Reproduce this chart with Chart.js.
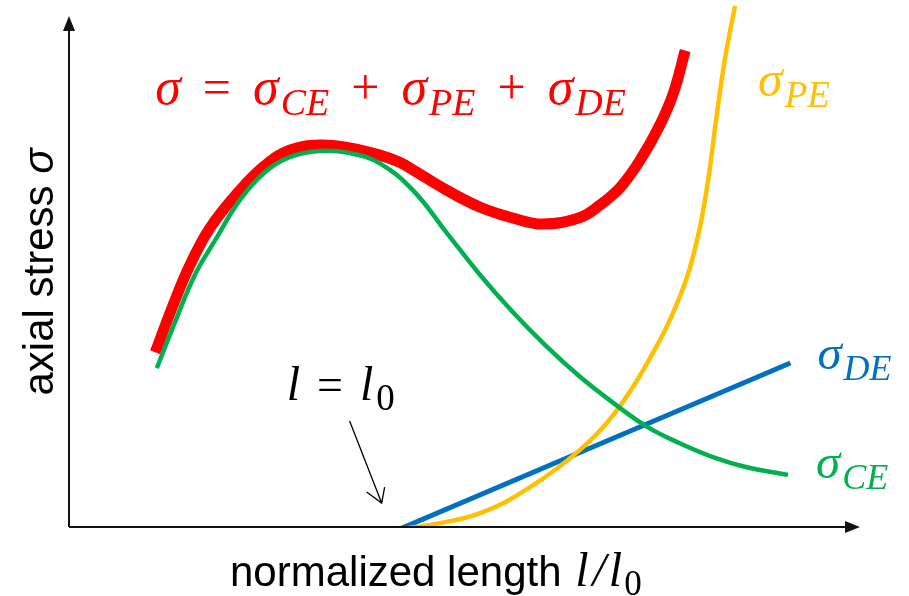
<!DOCTYPE html>
<html>
<head>
<meta charset="utf-8">
<script src="https://cdn.jsdelivr.net/npm/chart.js@4.4.1/dist/chart.umd.min.js"></script>
<style>
    body { margin: 0; background: #fff; }
</style>
</head>
<body>
<canvas id="stressChart" width="909" height="596"></canvas>
<script>
// values (x = normalized length, y = axial stress, arbitrary units 0..100)

// total stress  sigma = sigma_CE + sigma_PE + sigma_DE
const totalX = [10.9, 13.4, 15.3, 17.8, 21.6, 24.8, 27.9, 31.7, 35.5, 39.3, 41.8, 43.5, 47.8, 52.0, 56.1, 59.9, 64.6, 67.1, 69.7, 72.2, 74.7, 76.4, 77.9];
const totalY = [34.2, 44.4, 51.3, 58.5, 65.9, 70.8, 73.8, 74.8, 74.2, 72.8, 71.4, 69.9, 65.9, 62.6, 60.5, 59.3, 60.6, 63.0, 66.5, 71.8, 78.7, 84.9, 93.3];

// contractile element
const ceX = [11.1, 13.4, 15.9, 18.5, 21.6, 24.8, 27.9, 31.7, 35.5, 39.3, 43.5, 47.8, 52.0, 56.1, 60.4, 64.6, 68.8, 73.1, 77.2, 81.4, 85.7, 90.9];
const ceY = [31.1, 40.1, 49.3, 56.2, 64.0, 69.5, 72.4, 73.6, 73.2, 71.2, 65.9, 57.5, 49.3, 42.1, 35.3, 29.4, 24.3, 19.6, 16.4, 13.7, 11.7, 10.2];

// parallel elastic element
const peX = [41.8, 45.6, 52.0, 58.3, 64.6, 68.8, 73.1, 77.2, 79.4, 80.8, 81.8, 82.9, 84.2];
const peY = [-0.4, 0.4, 2.7, 7.8, 15.1, 21.9, 32.1, 45.0, 56.2, 67.9, 79.6, 91.4, 102.0];

// damping element (straight line)
const deX = [41.8, 91.2];
const deY = [-0.4, 32.1];

const colRed = '#ff0000';
const colGreen = '#00b050';
const colYellow = '#ffc000';
const colBlue = '#0070c0';

function toPoints(xs, ys) {
    return xs.map(function (x, i) {
        return { x: x, y: ys[i] };
    });
}

const mathFont = '"Liberation Serif", "DejaVu Serif", serif';
const sansFont = '"Liberation Sans", Arial, sans-serif';

// draws a row of pieces: [text, font, baseline shift, gap after]
function drawRow(ctx, x, y, pieces) {
    pieces.forEach(function (p) {
        ctx.font = p[1];
        ctx.fillText(p[0], x, y + p[2]);
        x += ctx.measureText(p[0]).width + p[3];
    });
    return x;
}

function sigma(name, size) {
    return [
        ['σ', 'italic ' + size + 'px ' + mathFont, 0, 2],
        [name, 'italic ' + Math.round(size * 0.74) + 'px ' + mathFont, Math.round(size * 0.22), 0]
    ];
}

const drawingPlugin = {
    id: 'drawing',
    afterDatasetsDraw(chart) {
        const ctx = chart.ctx;
        const area = chart.chartArea;
        const xs = chart.scales.x;
        const ys = chart.scales.y;
        const x0 = area.left;
        const y0 = ys.getPixelForValue(0);

        ctx.save();

        // axes with filled arrowheads
        ctx.strokeStyle = '#111';
        ctx.fillStyle = '#111';
        ctx.lineWidth = 2;
        ctx.beginPath();
        ctx.moveTo(x0, y0);
        ctx.lineTo(x0, area.top + 24);
        ctx.moveTo(x0, y0);
        ctx.lineTo(area.right - 14, y0);
        ctx.stroke();

        ctx.beginPath();
        ctx.moveTo(x0, area.top + 10);
        ctx.lineTo(x0 - 6, area.top + 25);
        ctx.lineTo(x0 + 6, area.top + 25);
        ctx.closePath();
        ctx.fill();

        ctx.beginPath();
        ctx.moveTo(area.right, y0);
        ctx.lineTo(area.right - 15, y0 - 6);
        ctx.lineTo(area.right - 15, y0 + 6);
        ctx.closePath();
        ctx.fill();

        // axis titles
        ctx.fillStyle = '#000';
        ctx.textBaseline = 'alphabetic';
        ctx.save();
        ctx.translate(53, 272);
        ctx.rotate(-Math.PI / 2);
        const yt1 = 'axial stress ';
        ctx.font = '42px ' + sansFont;
        const w1 = ctx.measureText(yt1).width;
        ctx.font = 'italic 42px ' + sansFont;
        const w2 = ctx.measureText('σ').width;
        const tx = -(w1 + w2) / 2;
        ctx.font = '42px ' + sansFont;
        ctx.fillText(yt1, tx, 0);
        ctx.font = 'italic 42px ' + sansFont;
        ctx.fillText('σ', tx + w1, 0);
        ctx.restore();

        drawRow(ctx, 230, 586, [
            ['normalized length ', '42px ' + sansFont, 0, 2],
            ['l', 'italic 48px ' + mathFont, 0, 4],
            ['/', 'italic 48px ' + mathFont, 0, 3],
            ['l', 'italic 48px ' + mathFont, 0, 2],
            ['0', '35px ' + mathFont, 9, 0]
        ]);

        // formula for the total stress
        const bigF = 'italic 52px ' + mathFont;
        const opF = '50px ' + mathFont;
        ctx.fillStyle = colRed;
        const formula = [['σ', bigF, 0, 22], ['=', opF, 0, 22]]
            .concat(sigma('CE', 52)).concat([['', opF, 0, 22], ['+', opF, 0, 22]])
            .concat(sigma('PE', 52)).concat([['', opF, 0, 22], ['+', opF, 0, 22]])
            .concat(sigma('DE', 52));
        drawRow(ctx, xs.getPixelForValue(totalX[0]), 104, formula);

        // series labels next to the line ends
        const peEnd = peX.length - 1;
        ctx.fillStyle = colYellow;
        drawRow(ctx, xs.getPixelForValue(peX[peEnd]) + 23, 96, sigma('PE', 50));

        ctx.fillStyle = colBlue;
        drawRow(ctx, xs.getPixelForValue(deX[1]) + 27, ys.getPixelForValue(deY[1]) + 6, sigma('DE', 49));

        const ceEnd = ceX.length - 1;
        ctx.fillStyle = colGreen;
        drawRow(ctx, xs.getPixelForValue(ceX[ceEnd]) + 28, ys.getPixelForValue(ceY[ceEnd]) + 3, sigma('CE', 49));

        // l = l0 marker pointing at the start of the elastic elements
        const sx = xs.getPixelForValue(deX[0]);
        const sy = ys.getPixelForValue(deY[0]);
        ctx.fillStyle = '#000';
        drawRow(ctx, sx - 113, sy - 129, [
            ['l', 'italic 48px ' + mathFont, 0, 17],
            ['=', '46px ' + mathFont, 0, 17],
            ['l', 'italic 48px ' + mathFont, 0, 3],
            ['0', '37px ' + mathFont, 10, 0]
        ]);

        ctx.strokeStyle = '#000';
        ctx.lineWidth = 1.3;
        const tipX = sx - 18, tipY = sy - 26;
        ctx.beginPath();
        ctx.moveTo(sx - 50, sy - 108);
        ctx.lineTo(tipX, tipY);
        ctx.moveTo(tipX - 15, tipY - 11);
        ctx.lineTo(tipX, tipY);
        ctx.lineTo(tipX + 3, tipY - 16);
        ctx.stroke();

        ctx.restore();
    }
};

const lineStyle = {
    showLine: true,
    fill: false,
    pointRadius: 0,
    tension: 0.4,
    borderCapStyle: 'butt',
    borderJoinStyle: 'round'
};

new Chart(document.getElementById('stressChart').getContext('2d'), {
    type: 'scatter',
    data: {
        datasets: [
            Object.assign({ label: 'σ_CE', data: toPoints(ceX, ceY), borderColor: colGreen, borderWidth: 4.5 }, lineStyle),
            Object.assign({ label: 'σ_PE', data: toPoints(peX, peY), borderColor: colYellow, borderWidth: 4.5 }, lineStyle),
            Object.assign({ label: 'σ_DE', data: toPoints(deX, deY), borderColor: colBlue, borderWidth: 5 }, lineStyle),
            Object.assign({ label: 'σ', data: toPoints(totalX, totalY), borderColor: colRed, borderWidth: 11 }, lineStyle)
        ]
    },
    options: {
        responsive: false,
        animation: false,
        layout: { padding: { left: 69, right: 49, top: 6, bottom: 69 } },
        plugins: {
            legend: { display: false },
            tooltip: { enabled: false }
        },
        scales: {
            x: { type: 'linear', display: false, min: 0, max: 100 },
            y: { type: 'linear', display: false, min: 0, max: 102 }
        }
    },
    plugins: [drawingPlugin]
});
</script>
</body>
</html>
